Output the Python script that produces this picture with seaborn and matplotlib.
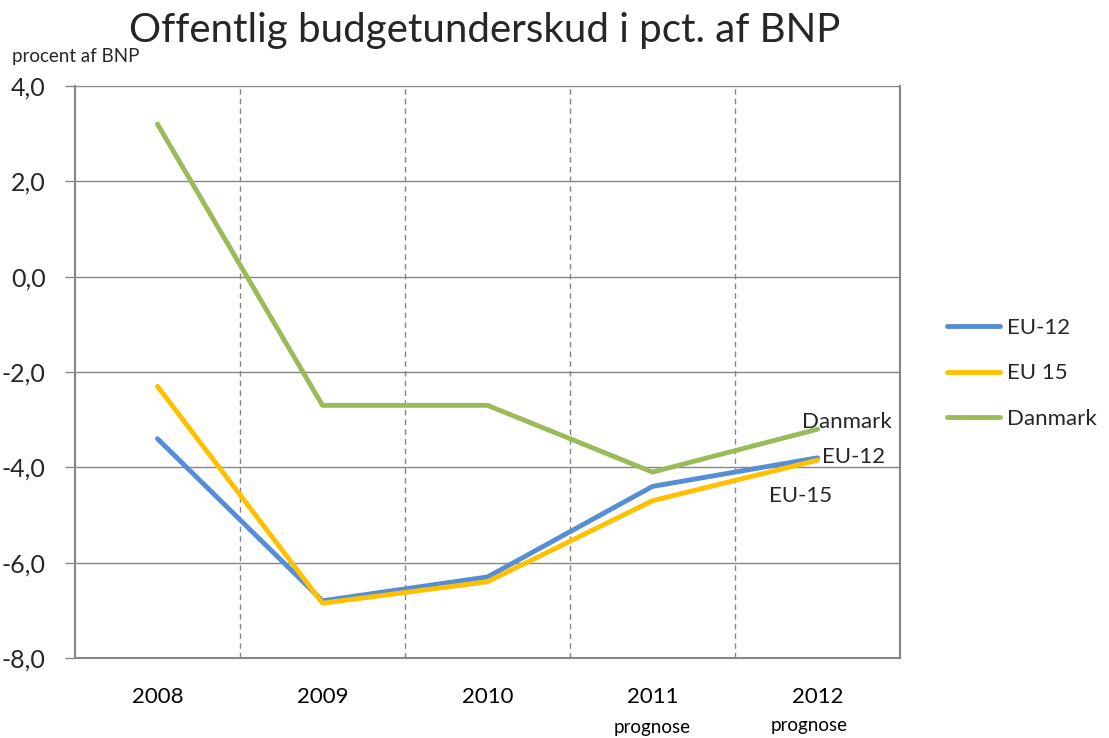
import matplotlib
matplotlib.use("Agg")
import matplotlib.pyplot as plt
import seaborn as sns
import pandas as pd
import numpy as np

years = ["2008", "2009", "2010", "2011", "2012"]
eu12 = [-3.4, -6.8, -6.3, -4.4, -3.8]
eu15 = [-2.3, -6.85, -6.4, -4.7, -3.85]
danmark = [3.2, -2.7, -2.7, -4.1, -3.2]
series_names = ["EU-12", "EU 15", "Danmark"]
colors = ["#558ED5", "#FFC000", "#9BBB59"]

sns.set_theme(style="white")
plt.rcParams['font.family'] = ['Lato', 'DejaVu Sans']

df = pd.DataFrame({
    "x": list(range(len(years))) * 3,
    "value": eu12 + eu15 + danmark,
    "serie": [s for s in series_names for _ in years],
})

fig = plt.figure(figsize=(11.09, 7.38), dpi=100)
ax = fig.add_axes([0.0676, 0.1084, 0.8116 - 0.0676, 0.8835 - 0.1084])

sns.lineplot(data=df, x="x", y="value", hue="serie", palette=colors,
             hue_order=series_names, linewidth=3.5, ax=ax, legend=False,
             solid_capstyle="round")

ax.set_xlim(-0.5, 4.5)
ax.set_ylim(-8, 4)
yt = np.arange(-8, 4.01, 2)
ax.set_yticks(yt)
ax.set_yticklabels([f"{v:.1f}".replace(".", ",") for v in yt], fontsize=18)
ax.set_xticks(range(len(years)))
ax.set_xticklabels(["" for _ in years])
for i, lab in enumerate(years):
    ax.text(i, -8.6, lab, ha="center", va="top", fontsize=16, color="black")
ax.text(3, -9.28, "prognose", ha="center", va="top", fontsize=13.5, color="black")
ax.text(3.95, -9.23, "prognose", ha="center", va="top", fontsize=13.5, color="black")

ax.tick_params(axis="x", length=0)
ax.tick_params(axis="y", length=7, color="#868686", width=1, pad=14, direction="out", left=True)
ax.set_xlabel("")
ax.set_ylabel("")

# gridlines
for v in np.arange(-6, 4.01, 2):
    ax.axhline(v, color="#868686", linewidth=1, zorder=0)
for b in [0.5, 1.5, 2.5, 3.5]:
    ax.axvline(b, color="#868686", linewidth=1, linestyle=(0, (4, 3)), zorder=0)

for side in ["left", "right", "bottom"]:
    ax.spines[side].set_visible(True)
    ax.spines[side].set_color("#868686")
    ax.spines[side].set_linewidth(1.5)
ax.spines["top"].set_visible(False)

# end labels
ax.text(4.45, -3.05, "Danmark", ha="right", va="center", fontsize=16)
ax.text(4.41, -3.78, "EU-12", ha="right", va="center", fontsize=16)
ax.text(3.9, -4.6, "EU-15", ha="center", va="center", fontsize=16)

# legend
from matplotlib.lines import Line2D
handles = [Line2D([0], [0], color=c, lw=3.5, solid_capstyle="round") for c in colors]
fig.legend(handles, series_names, loc="center left", bbox_to_anchor=(0.836, 0.494),
           frameon=False, fontsize=16, handlelength=2.4, labelspacing=1.15, handletextpad=0.3)

fig.text(0.437, 0.958, "Offentlig budgetunderskud i pct. af BNP", ha="center", va="center", fontsize=29)
fig.text(0.011, 0.923, "procent af BNP", ha="left", va="center", fontsize=13.5)

fig.savefig("out.png", dpi=100)
